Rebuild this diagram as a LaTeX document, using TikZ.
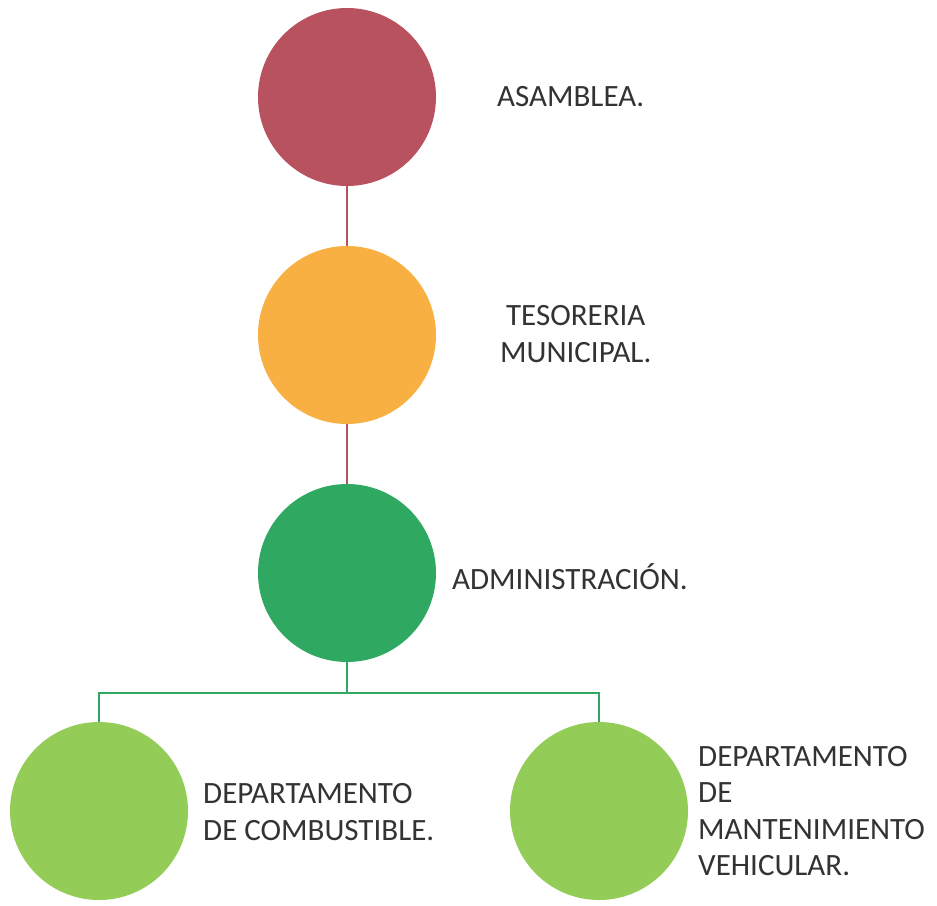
\documentclass[tikz,border=0pt]{standalone}
\usepackage{fontspec}
\setmainfont{Carlito}
\usetikzlibrary{positioning}

\definecolor{asambleaRed}{HTML}{B9525F}
\definecolor{tesoreriaOrange}{HTML}{F8B043}
\definecolor{adminGreen}{HTML}{2FA862}
\definecolor{deptGreen}{HTML}{93CD57}
\definecolor{labelGray}{HTML}{333333}

\tikzset{
  unit/.style={circle, minimum size=178pt, inner sep=0pt},
  unitlabel/.style={anchor=west, text=labelGray, font=\fontsize{31}{36.5}\selectfont, inner sep=0pt},
  redlink/.style={draw=asambleaRed, line width=2pt},
  greenlink/.style={draw=adminGreen, line width=2pt},
}

\begin{document}
\begin{tikzpicture}[x=1pt, y=-1pt]
        \useasboundingbox (0,0) rectangle (937,905);

        \node[unit, fill=asambleaRed] (asamblea) at (347,97) {};
        \node[unit, fill=tesoreriaOrange] (tesoreria) at (347,335) {};
        \node[unit, fill=adminGreen] (admin) at (347,573) {};
        \node[unit, fill=deptGreen] (combustible) at (99,811) {};
        \node[unit, fill=deptGreen] (mantenimiento) at (599,811) {};

        \node[unitlabel] (asambleaText) at (497,97) {ASAMBLEA.};
        \node[unitlabel, align=center] (tesoreriaText) at (500,334) {TESORERIA\\MUNICIPAL.};
        \node[unitlabel] (adminText) at (452,577) {ADMINISTRACIÓN.};
        \node[unitlabel, align=left] (combustibleText) at (203,812) {DEPARTAMENTO\\DE COMBUSTIBLE.};
        \node[unitlabel, align=left] (mantenimientoText) at (698,811) {DEPARTAMENTO\\DE\\MANTENIMIENTO\\VEHICULAR.};

        \coordinate (split) at (347,693);
        \draw[redlink] (asamblea) -- (tesoreria);
        \draw[redlink] (tesoreria) -- (admin);
        \draw[greenlink] (admin) -- (split);
        \draw[greenlink] (split) -| (combustible);
        \draw[greenlink] (split) -| (mantenimiento);
    \end{tikzpicture}
\end{document}
